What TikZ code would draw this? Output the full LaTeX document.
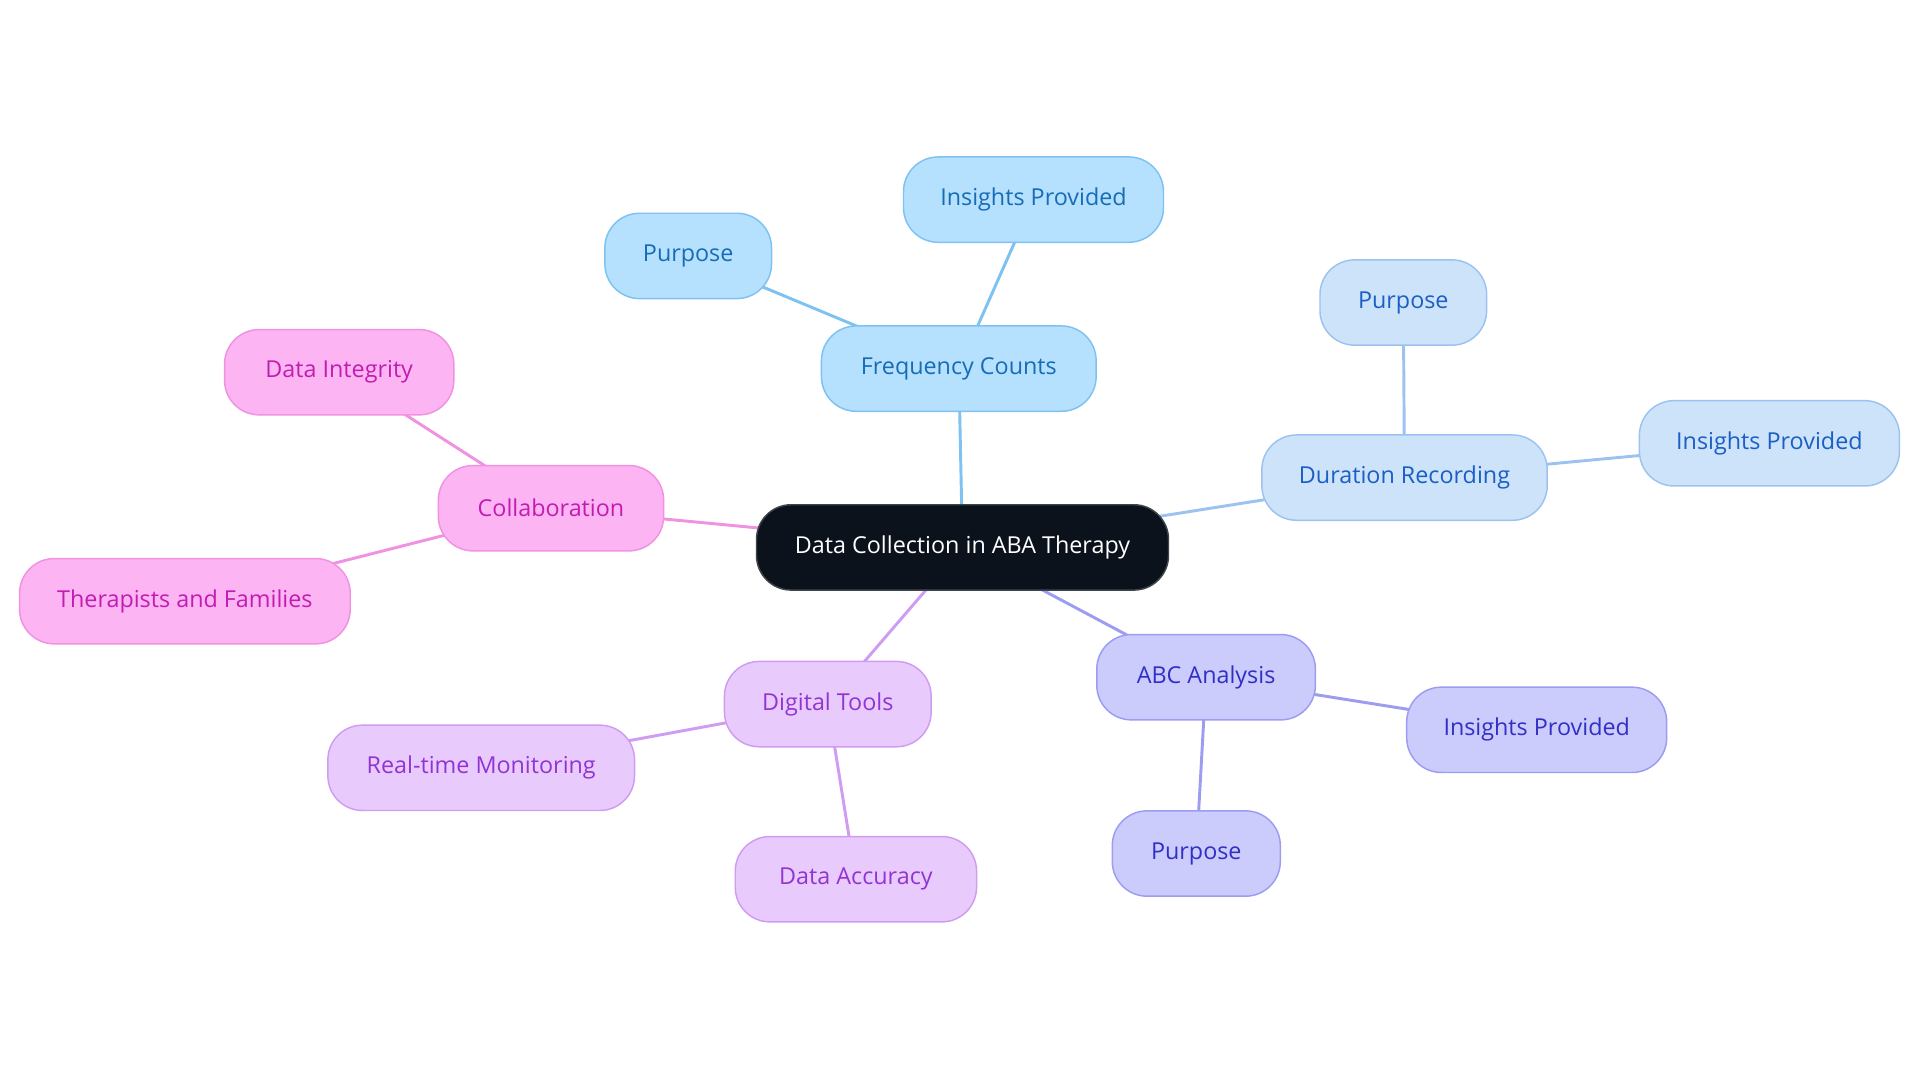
\documentclass[tikz,border=0pt]{standalone}
\usepackage{fontspec}
\setmainfont{Open Sans}
\usetikzlibrary{positioning,backgrounds}

\definecolor{rootfill}{HTML}{0C121C}
\definecolor{rootline}{HTML}{40454D}
\definecolor{freqfill}{HTML}{B5E0FE}
\definecolor{freqline}{HTML}{7DC2F0}
\definecolor{freqtext}{HTML}{166DB6}
\definecolor{durfill}{HTML}{CDE3FA}
\definecolor{durline}{HTML}{9CC3EF}
\definecolor{durtext}{HTML}{1B5EC4}
\definecolor{abcfill}{HTML}{CBCBFC}
\definecolor{abcline}{HTML}{9C9CF1}
\definecolor{abctext}{HTML}{3030C6}
\definecolor{digfill}{HTML}{E8CBFC}
\definecolor{digline}{HTML}{CF9CF1}
\definecolor{digtext}{HTML}{9234D4}
\definecolor{colfill}{HTML}{FCB4F3}
\definecolor{colline}{HTML}{F191E1}
\definecolor{coltext}{HTML}{C21CB3}

\tikzset{
  topic/.style={rounded corners=26pt, minimum height=64pt, inner xsep=0pt,
    line width=1.1pt, font=\fontsize{17.5}{20}\selectfont},
  root/.style={topic, fill=rootfill, draw=rootline, text=white},
  freq/.style={topic, fill=freqfill, draw=freqline, text=freqtext},
  dur/.style={topic, fill=durfill, draw=durline, text=durtext},
  abc/.style={topic, fill=abcfill, draw=abcline, text=abctext},
  dig/.style={topic, fill=digfill, draw=digline, text=digtext},
  col/.style={topic, fill=colfill, draw=colline, text=coltext},
  link/.style={line width=2.2pt}
}

\begin{document}
\begin{tikzpicture}[x=0.75pt,y=-0.75pt]
  \useasboundingbox (0,0) rectangle (1920,1083);

  % centre
  \node[root, minimum width=309pt] (aba) at (962.5,547.4) {Data Collection in ABA Therapy};

  % frequency counts
  \node[freq, minimum width=206pt] (freq) at (958.8,368.6) {Frequency Counts};
  \node[freq, minimum width=125pt] (freqpur) at (688.2,255.9) {Purpose};
  \node[freq, minimum width=195pt] (freqins) at (1033.5,199.6) {Insights Provided};

  % duration recording
  \node[dur, minimum width=214pt] (dur) at (1404.5,477.6) {Duration Recording};
  \node[dur, minimum width=125pt] (durpur) at (1403.3,302.5) {Purpose};
  \node[dur, minimum width=195pt] (durins) at (1769.4,443.3) {Insights Provided};

  % abc analysis
  \node[abc, minimum width=164pt] (abc) at (1206.1,677.2) {ABC Analysis};
  \node[abc, minimum width=195pt] (abcins) at (1536.7,729.8) {Insights Provided};
  \node[abc, minimum width=126pt] (abcpur) at (1196.3,853.5) {Purpose};

  % digital tools
  \node[dig, minimum width=155pt] (dig) at (827.8,704.1) {Digital Tools};
  \node[dig, minimum width=230pt] (digmon) at (481.2,767.8) {Real-time Monitoring};
  \node[dig, minimum width=181pt] (digacc) at (855.9,879.2) {Data Accuracy};

  % collaboration
  \node[col, minimum width=169pt] (col) at (551.0,508.2) {Collaboration};
  \node[col, minimum width=172pt] (colint) at (339.2,372.2) {Data Integrity};
  \node[col, minimum width=248pt] (colfam) at (184.9,601.2) {Therapists and Families};

  % links, under the boxes
  \begin{scope}[on background layer]
    \draw[link, freqline] (aba.center) -- (freq.center);
    \draw[link, freqline] (freq.center) -- (freqpur.center);
    \draw[link, freqline] (freq.center) -- (freqins.center);
    \draw[link, durline] (aba.center) -- (dur.center);
    \draw[link, durline] (dur.center) -- (durpur.center);
    \draw[link, durline] (dur.center) -- (durins.center);
    \draw[link, abcline] (aba.center) -- (abc.center);
    \draw[link, abcline] (abc.center) -- (abcins.center);
    \draw[link, abcline] (abc.center) -- (abcpur.center);
    \draw[link, digline] (aba.center) -- (dig.center);
    \draw[link, digline] (dig.center) -- (digmon.center);
    \draw[link, digline] (dig.center) -- (digacc.center);
    \draw[link, colline] (aba.center) -- (col.center);
    \draw[link, colline] (col.center) -- (colint.center);
    \draw[link, colline] (col.center) -- (colfam.center);
  \end{scope}
\end{tikzpicture}
\end{document}
